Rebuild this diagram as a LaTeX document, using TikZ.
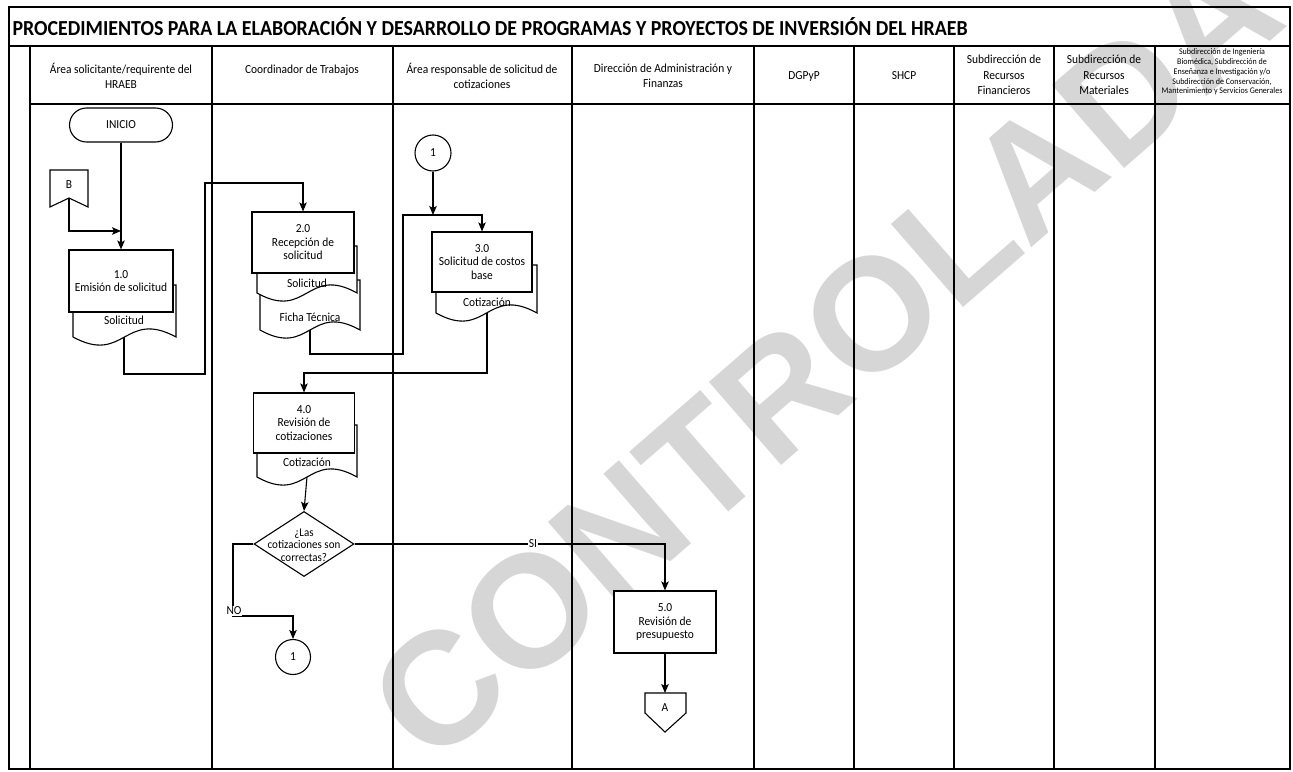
\documentclass[tikz,border=0pt]{standalone}
\usepackage{fontspec}
\setmainfont{Carlito}[FakeStretch=0.93]
\newfontfamily\wmfont{Liberation Sans}
\usetikzlibrary{arrows.meta,shapes.geometric}
\newcommand{\docsh}[4]{\draw[fill=white] (#1,#4) -- (#1,#3) -- (#2,#3) -- (#2,#4) .. controls ({(#1+#2)/2},{#4-28}) and ({(#1+#2)/2},{#4+28}) .. (#1,#4) -- cycle;}
\begin{document}
\begin{tikzpicture}[x=1pt,y=-1pt,line width=1.1pt,
  txt/.style={font=\fontsize{12.3}{13.5}\selectfont, align=center, inner sep=0pt},
  box/.style={draw, fill=white, align=center, inner sep=0pt, font=\fontsize{12.3}{13.5}\selectfont},
  hdr/.style={align=center, inner sep=0pt, font=\fontsize{12.3}{15.5}\selectfont},
  con/.style={draw, circle, fill=white, inner sep=0pt, font=\fontsize{12.3}{13.5}\selectfont},
  arr/.style={-{Stealth[length=9pt,width=7.5pt,inset=2pt]}},
  lbl/.style={fill=white, inner sep=1pt, font=\fontsize{12.3}{13.5}\selectfont}]
\useasboundingbox (0,0) rectangle (1293,771);
% watermark
\node[rotate=41, text=black!16, inner sep=0pt, font=\wmfont\bfseries\fontsize{160}{160}\selectfont] (wm) at (825,355) {CONTROLADA};
% frame
\draw[line width=1.3pt] (9,7) rectangle (1290,769);
\draw (9,46) -- (1290,46);
\draw (30,104) -- (1290,104);
\foreach \x in {30,212,393,572,754,854,954,1054,1155} \draw (\x,46) -- (\x,769);
% title
\node[anchor=west, inner sep=0pt, font=\fontsize{21.4}{24}\selectfont\bfseries] (title) at (12,27) {PROCEDIMIENTOS PARA LA ELABORACIÓN Y DESARROLLO DE PROGRAMAS Y PROYECTOS DE INVERSIÓN DEL HRAEB};
% headers
\node[hdr] (h1) at (121,76) {Área solicitante/requirente del\\HRAEB};
\node[hdr] (h2) at (302,70) {Coordinador de Trabajos};
\node[hdr] (h3) at (482,76) {Área responsable de solicitud de\\cotizaciones};
\node[hdr] (h4) at (663,76) {Dirección de Administración y\\Finanzas};
\node[hdr] (h5) at (804,76) {DGPyP};
\node[hdr] (h6) at (904,76) {SHCP};
\node[hdr] (h7) at (1004,75) {Subdirección de\\Recursos\\Financieros};
\node[hdr] (h8) at (1104,75) {Subdirección de\\Recursos\\Materiales};
\node[align=center, inner sep=0pt, font=\fontsize{8.6}{9.8}\selectfont] (h9) at (1222,72) {Subdirección de Ingeniería\\Biomédica, Subdirección de\\Enseñanza e Investigación y/o\\Subdirección de Conservación,\\Mantenimiento y Servicios Generales};
% INICIO and 1.0
\node[draw, fill=white, rounded corners=17pt, minimum width=103pt, minimum height=34pt, font=\fontsize{12.3}{13.5}\selectfont] (inicio) at (121,125) {INICIO};
\draw[fill=white] (50,170) -- (88,170) -- (88,207) -- (69,198) -- (50,207) -- cycle;
\node[txt] (B) at (69,185) {B};
\coordinate (Bb) at (69,198);
\coordinate (j1) at (121,231);
\docsh{73}{176}{285}{337}
\node[txt] (d1) at (124,320) {Solicitud};
\node[box, minimum width=104pt, minimum height=62pt] (p1) at (121,281) {1.0\\Emisión de solicitud};
\coordinate (d1b) at (124,337);
% 2.0
\docsh{260}{360}{280}{330}
\node[txt] (d3) at (310,317) {Ficha Técnica};
\docsh{257}{357}{246}{293}
\node[txt] (d2) at (307,283) {Solicitud};
\node[box, minimum width=102pt, minimum height=61pt] (p2) at (303,242.5) {2.0\\Recepción de\\solicitud};
\coordinate (d3b) at (310,330);
% 3.0
\node[con, minimum size=36pt] (c1) at (433,153) {1};
\docsh{436}{537}{265}{313}
\node[txt] (d4) at (487,302) {Cotización};
\node[box, minimum width=100pt, minimum height=60pt] (p3) at (482,262) {3.0\\Solicitud de costos\\base};
\coordinate (d4b) at (487,313);
\coordinate (j2) at (433,215);
% 4.0
\docsh{257}{357}{425}{477}
\node[txt] (d5) at (307,462) {Cotización};
\node[box, minimum width=101pt, minimum height=60pt] (p4) at (304,423) {4.0\\Revisión de\\cotizaciones};
\coordinate (d5b) at (307,477);
% decision
\node[diamond, draw, fill=white, minimum width=100pt, minimum height=65pt, inner sep=0pt] (dec) at (304,544) {};
\node[align=center, inner sep=0pt, font=\fontsize{11.8}{12.5}\selectfont] (dect) at (304,545) {¿Las\\cotizaciones son\\correctas?};
\node[con, minimum size=35pt] (c2) at (293,657) {1};
% 5.0
\node[box, minimum width=102pt, minimum height=62pt] (p5) at (665,622) {5.0\\Revisión de\\presupuesto};
\draw[fill=white] (645,693) -- (686,693) -- (686,713) -- (665,732) -- (645,713) -- cycle;
\node[txt] (A) at (665,708) {A};
\coordinate (At) at (665,693);
% connectors
\draw[arr] (inicio.south) -- (p1.north);
\draw[arr] (Bb) |- (j1);
\draw[arr] (d1b) -- (124,374) -- (205,374) -- (205,183) -- (303,183) -- (p2.north);
\draw[arr] (d3b) -- (310,354) -- (403,354) -- (403,215) -- (482,215) -- (p3.north);
\draw[arr] (c1.south) -- (j2);
\draw[arr] (d4b) -- (487,373) -- (304,373) -- (p4.north);
\draw[arr] (d5b) -- (dec.north);
\draw[arr] (dec.west) -- (233,544) -- (233,616) -- (293,616) -- (c2.north);
\node[lbl] (no) at (234,611) {NO};
\draw[arr] (dec.east) -- (665,544) -- (p5.north);
\node[lbl] (si) at (533,544) {SI};
\draw[arr] (p5.south) -- (At);
\end{tikzpicture}
\end{document}
